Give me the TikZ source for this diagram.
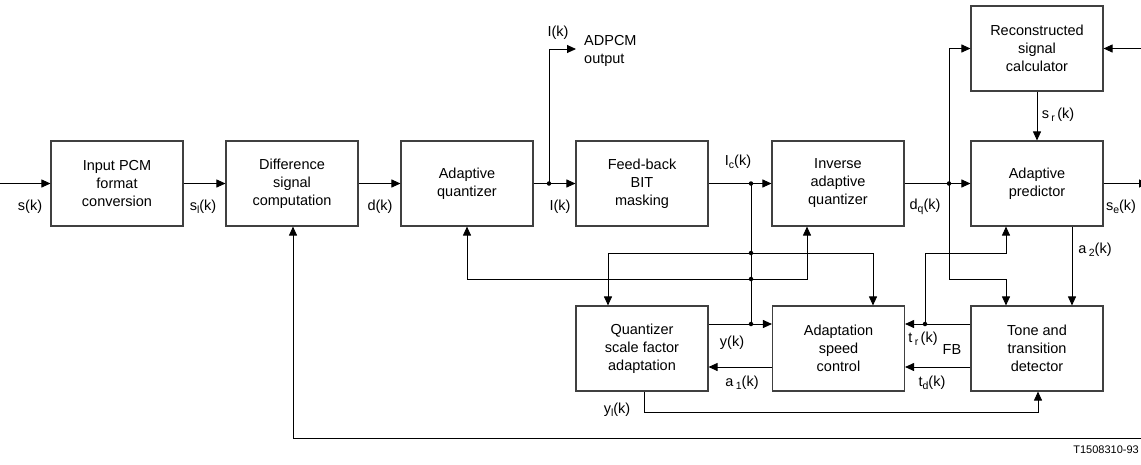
\documentclass[tikz,border=0pt]{standalone}
\usepackage{fontspec}
\setmainfont{Liberation Sans}
\usetikzlibrary{arrows.meta,calc}
\newcommand\sbx[1]{\raisebox{-2.5pt}{\fontsize{10.5}{10.5}\selectfont #1}}
\begin{document}
\begin{tikzpicture}[x=1pt,y=-1pt,
  box/.style={draw=black!75,line width=1.1pt,minimum width=132pt,minimum height=85pt,align=center,font=\fontsize{14.5}{18}\selectfont,inner sep=0pt},
  wire/.style={line width=0.9pt},
  arr/.style={wire,-{Triangle[length=9pt,width=8pt]}},
  dot/.style={circle,fill,inner sep=0pt,minimum size=4.5pt},
  lbl/.style={font=\fontsize{14.5}{18}\selectfont,inner sep=0pt}]
\useasboundingbox (0,0) rectangle (1141,464);
\clip (0,0) rectangle (1141,464);
% boxes
\node[box] (inpcm) at (117,183.5) {Input PCM\\format\\conversion};
\node[box] (diff) at (292,183.5) {Difference\\signal\\computation};
\node[box] (aq) at (467,183.5) {Adaptive\\quantizer};
\node[box] (fb) at (642,183.5) {Feed-back\\BIT\\masking};
\node[box] (iaq) at (838,183.5) {Inverse\\adaptive\\quantizer};
\node[box] (ap) at (1037,183.5) {Adaptive\\predictor};
\node[box] (rsc) at (1037,48.5) {Reconstructed\\signal\\calculator};
\node[box] (qsf) at (642,348.5) {Quantizer\\scale factor\\adaptation};
\node[box] (asc) at (838.5,348.5) {Adaptation\\speed\\control};
\node[box] (ttd) at (1037,348.5) {Tone and\\transition\\detector};
% coordinates
\coordinate (sin) at (0,183.5);
\coordinate (J1) at (549,183.5);
\coordinate (J2) at (751,183.5);
\coordinate (J3) at (751,253);
\coordinate (J4) at (751,279);
\coordinate (J5) at (751,324);
\coordinate (J6) at (949,183.5);
\coordinate (J7) at (925,324);
\coordinate (adpcm) at (576,49);
\coordinate (L3) at (608,253);
\coordinate (R3) at (873,253);
\coordinate (L4) at (467,279);
\coordinate (R4) at (807,279);
\coordinate (A1) at (0,367);
\coordinate (P1) at (925,253);
\coordinate (P2) at (1006,253);
\coordinate (Q1) at (949,279);
\coordinate (Q2) at (1006,279);
\coordinate (se) at (1148,183.5);
\coordinate (rin) at (1141,48.5);
\coordinate (A2) at (1072,0);
\coordinate (Y1) at (644,412);
\coordinate (Y2) at (1038,412);
\coordinate (fbR) at (1141,438);
\coordinate (fbL) at (293,438);
% connectors
\draw[arr] (sin) -- (inpcm.west);
\draw[arr] (inpcm.east) -- (diff.west);
\draw[arr] (diff.east) -- (aq.west);
\draw[wire] (aq.east) -- (J1);
\draw[arr] (J1) -- (fb.west);
\draw[arr] (J1) |- (adpcm);
\draw[wire] (fb.east) -- (J2);
\draw[arr] (J2) -- (iaq.west);
\draw[wire] (J2) -- (J5);
\draw[arr] (J3) -- (L3) -- (qsf.north -| L3);
\draw[arr] (J3) -- (R3) -- (asc.north -| R3);
\draw[arr] (J4) -- (L4) -- (aq.south -| L4);
\draw[arr] (J4) -- (R4) -- (iaq.south -| R4);
\draw[arr] (qsf.east |- J5) -- (asc.west |- J5);
\draw[arr] (asc.west |- A1) -- (qsf.east |- A1);
\draw[arr] (ttd.west |- A1) -- (asc.east |- A1);
\draw[arr] (ttd.west |- J7) -- (asc.east |- J7);
\draw[arr] (J7) -- (P1) -- (P2) -- (ap.south -| P2);
\draw[wire] (iaq.east) -- (J6);
\draw[arr] (J6) -- (ap.west);
\draw[arr] (J6) |- (rsc.west);
\draw[arr] (J6) -- (Q1) -- (Q2) -- (ttd.north -| Q2);
\draw[arr] (rsc.south) -- (ap.north);
\draw[arr] (ap.east) -- (se);
\draw[arr] (rin) -- (rsc.east);
\draw[arr] (ap.south -| A2) -- (ttd.north -| A2);
\draw[arr] (qsf.south -| Y1) -- (Y1) -- (Y2) -- (ttd.south -| Y2);
\draw[arr] (fbR) -- (fbL) -- (diff.south -| fbL);
% dots
\foreach \j in {J1,J2,J3,J4,J5,J6,J7} \node[dot] at (\j) {};
% labels
\node[lbl] (ls) at (30,207) {s(k)};
\node[lbl] (lsl) at (203,207) {s\sbx{l}(k)};
\node[lbl] (ld) at (380,207) {d(k)};
\node[lbl] (lI) at (560,207) {I(k)};
\node[lbl] (lI2) at (558,33) {I(k)};
\node[lbl,align=left,anchor=west] (lout) at (584,51) {ADPCM\\output};
\node[lbl] (lic) at (738,162) {I\sbx{c}(k)};
\node[lbl] (ldq) at (925,207) {d\sbx{q}(k)};
\node[lbl] (lse) at (1121,207) {s\sbx{e}(k)};
\node[lbl] (lsr) at (1058,115) {s\,\sbx{r}\,(k)};
\node[lbl] (la2) at (1095,250) {a\,\sbx{2}(k)};
\node[lbl] (ly) at (732,343) {y(k)};
\node[lbl] (la1) at (742,383) {a\,\sbx{1}(k)};
\node[lbl] (lyl) at (617,410) {y\sbx{l}(k)};
\node[lbl] (ltr) at (923,339) {t\,\sbx{r}\,(k)};
\node[lbl] (lfb) at (952,350) {FB};
\node[lbl] (ltd) at (932,383) {t\sbx{d}(k)};
\node[font=\fontsize{11}{13}\selectfont,anchor=east,inner sep=0pt] (code) at (1139,450) {T1508310-93};
\end{tikzpicture}
\end{document}
